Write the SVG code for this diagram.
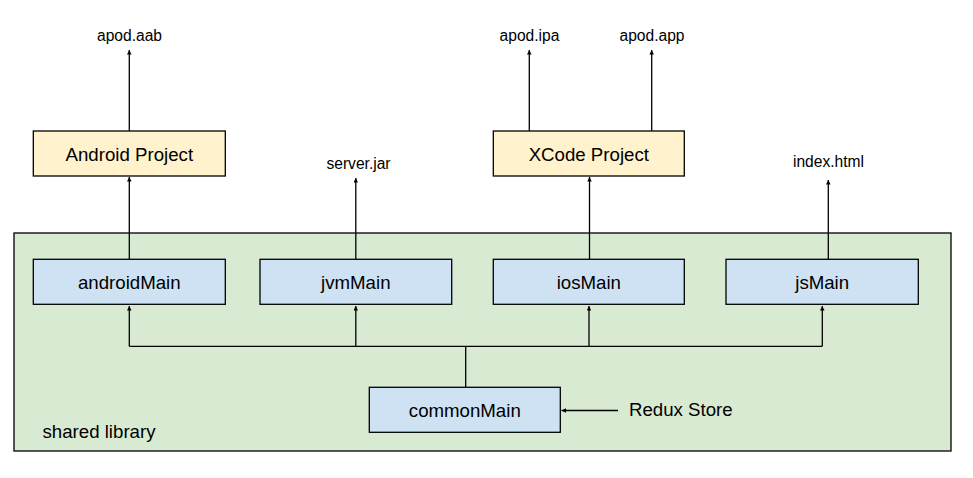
<svg xmlns="http://www.w3.org/2000/svg" width="973" height="478" viewBox="0 0 973 478">
<defs>
<style>
.box{stroke:#000;stroke-width:1.3}
.lib{fill:#d9ead3}
.mod{fill:#cfe2f3}
.proj{fill:#fff2cc}
.t{font-family:"Liberation Sans",Arial,sans-serif;font-size:18.67px;fill:#000;text-anchor:middle}
.s{font-family:"Liberation Sans",Arial,sans-serif;font-size:15.6px;fill:#000;text-anchor:middle}
.c{fill:none;stroke:#000;stroke-width:1.3}
</style>
<marker id="ah" viewBox="0 0 6 6" refX="6" refY="3" markerWidth="3.5" markerHeight="3.5" markerUnits="strokeWidth" orient="auto">
<path d="M0,0 L6,3 L0,6 z" fill="#000"/>
</marker>
</defs>
<rect width="973" height="478" fill="#fff"/>
<g id="shared-library">
<rect class="box lib" x="14" y="233" width="937" height="218"/>
<text class="t" x="42.5" y="438" style="text-anchor:start">shared library</text>
</g>
<g id="android-project"><rect class="box proj" x="33.3" y="131" width="192" height="45"/><text class="t" x="129.3" y="161">Android Project</text></g>
<g id="xcode-project"><rect class="box proj" x="493.3" y="131" width="191" height="45"/><text class="t" x="588.8" y="161">XCode Project</text></g>
<g id="androidMain"><rect class="box mod" x="33.3" y="259.3" width="192" height="45"/><text class="t" x="129.3" y="289">androidMain</text></g>
<g id="jvmMain"><rect class="box mod" x="260" y="259.3" width="191.7" height="45"/><text class="t" x="355.8" y="289">jvmMain</text></g>
<g id="iosMain"><rect class="box mod" x="493.3" y="259.3" width="191" height="45"/><text class="t" x="588.8" y="289">iosMain</text></g>
<g id="jsMain"><rect class="box mod" x="726" y="259.3" width="192.3" height="45"/><text class="t" x="822.2" y="289">jsMain</text></g>
<g id="commonMain"><rect class="box mod" x="369.3" y="387.3" width="191" height="45"/><text class="t" x="464.8" y="417">commonMain</text></g>
<g id="labels">
<text class="s" x="129.5" y="40.5">apod.aab</text>
<text class="s" x="529.5" y="40.5">apod.ipa</text>
<text class="s" x="652" y="40.5">apod.app</text>
<text class="s" x="358.5" y="169">server.jar</text>
<text class="s" x="828.5" y="166.5">index.html</text>
<text class="t" x="629" y="416" style="text-anchor:start">Redux Store</text>
</g>
<g id="connectors">
<line class="c" x1="129.3" y1="131" x2="129.3" y2="50" marker-end="url(#ah)"/>
<line class="c" x1="529.3" y1="131" x2="529.3" y2="50" marker-end="url(#ah)"/>
<line class="c" x1="651.7" y1="131" x2="651.7" y2="50" marker-end="url(#ah)"/>
<line class="c" x1="129.3" y1="259.3" x2="129.3" y2="177" marker-end="url(#ah)"/>
<line class="c" x1="355.8" y1="259.3" x2="355.8" y2="178" marker-end="url(#ah)"/>
<line class="c" x1="589.5" y1="259.3" x2="589.5" y2="177" marker-end="url(#ah)"/>
<line class="c" x1="828.3" y1="259.3" x2="828.3" y2="180" marker-end="url(#ah)"/>
<path class="c" d="M465.7,387.3 V346.3 M129.3,346.3 H822.3"/>
<line class="c" x1="129.3" y1="346.3" x2="129.3" y2="306" marker-end="url(#ah)"/>
<line class="c" x1="355.8" y1="346.3" x2="355.8" y2="306" marker-end="url(#ah)"/>
<line class="c" x1="589" y1="346.3" x2="589" y2="306" marker-end="url(#ah)"/>
<line class="c" x1="822.3" y1="346.3" x2="822.3" y2="306" marker-end="url(#ah)"/>
<line class="c" x1="618" y1="410.5" x2="561.5" y2="410.5" marker-end="url(#ah)"/>
</g>
</svg>
